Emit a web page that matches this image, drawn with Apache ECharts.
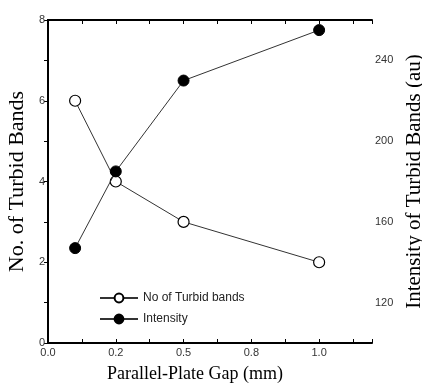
<!DOCTYPE html>
<html>
<head>
<meta charset="utf-8">
<script src="https://cdn.jsdelivr.net/npm/echarts@6/dist/echarts.min.js"></script>
<style>html,body{margin:0;padding:0;background:#fff;}#c{width:422px;height:388px;}</style>
</head>
<body>
<div id="c"></div>
<script>
// ---- data ----
const xTickLabels = ['0.0', '0.2', '0.5', '0.8', '1.0'];
const xTickValues = [0.0, 0.2, 0.5, 0.8, 1.0];
const gapMm = [0.08, 0.2, 0.5, 1.0];
const turbidBands = [6, 4, 3, 2];
const intensity = [147, 185, 230, 255];
const leftTicks = [0, 2, 4, 6, 8];
const rightLabelTicks = [120, 160, 200, 240];

// piecewise mapping of gap value onto equally spaced tick positions
function toAxis(v) {
  for (let i = 0; i < xTickValues.length - 1; i++) {
    const a = xTickValues[i], b = xTickValues[i + 1];
    if (v <= b || i === xTickValues.length - 2) return i + (v - a) / (b - a);
  }
}

const sans = 'Liberation Sans';
const serif = 'Liberation Serif';
const axisLine = { show: true, lineStyle: { color: '#000', width: 2 } };

const chart = echarts.init(document.getElementById('c'), null, { renderer: 'canvas' });
chart.setOption({
  animation: false,
  backgroundColor: '#fff',
  grid: { left: 48, right: 50, top: 20, bottom: 45, containLabel: false, outerBoundsMode: 'none' },
  legend: {
    orient: 'vertical', left: 94, top: 287, itemWidth: 38, itemHeight: 11, itemGap: 9,
    textStyle: { fontFamily: sans, fontSize: 12, color: '#222' },
    data: ['No of Turbid bands', 'Intensity']
  },
  xAxis: [{
    type: 'value', min: 0, max: 4.78, interval: 0.5,
    name: 'Parallel-Plate Gap (mm)', nameLocation: 'middle', nameGap: 22,
    nameTextStyle: { fontFamily: serif, fontSize: 18, color: '#000', padding: [0, 30, 0, 0] },
    axisLine: axisLine,
    axisTick: { show: true, inside: true, length: 4, lineStyle: { color: '#000' } },
    axisLabel: {
      customValues: xTickLabels.map((_, i) => i),
      formatter: v => xTickLabels[Math.round(v)],
      fontFamily: sans, fontSize: 11, color: '#333', margin: 4
    },
    splitLine: { show: false }
  }, {
    type: 'value', min: 0, max: 4.78, interval: 0.5, position: 'top',
    axisLine: axisLine,
    axisTick: { show: true, inside: true, length: 4, lineStyle: { color: '#000' } },
    axisLabel: { show: false }, splitLine: { show: false }
  }],
  yAxis: [{
    type: 'value', min: 0, max: 8, interval: 1,
    name: 'No. of Turbid Bands', nameLocation: 'middle', nameGap: 15, nameRotate: 90,
    nameTextStyle: { fontFamily: serif, fontSize: 22, color: '#000' },
    axisLine: axisLine,
    axisTick: { show: true, inside: false, length: 4, lineStyle: { color: '#000' } },
    axisLabel: { customValues: leftTicks, fontFamily: sans, fontSize: 11, color: '#333', margin: 3 },
    splitLine: { show: false }
  }, {
    type: 'value', min: 100, max: 260, interval: 20, position: 'right',
    name: 'Intensity of Turbid Bands (au)', nameLocation: 'middle', nameGap: 25, nameRotate: 90,
    nameTextStyle: { fontFamily: serif, fontSize: 21, color: '#000' },
    axisLine: axisLine,
    axisTick: { show: true, inside: true, length: 4, lineStyle: { color: '#000' } },
    axisLabel: {
      formatter: v => rightLabelTicks.indexOf(v) >= 0 ? String(v) : '',
      fontFamily: sans, fontSize: 11, color: '#333', margin: 3
    },
    splitLine: { show: false }
  }],
  series: [{
    name: 'No of Turbid bands', type: 'line', xAxisIndex: 0, yAxisIndex: 0,
    data: gapMm.map((g, i) => [toAxis(g), turbidBands[i]]),
    symbol: 'circle', symbolSize: 11,
    itemStyle: { color: '#fff', borderColor: '#000', borderWidth: 1.2 },
    lineStyle: { color: '#333', width: 1 }, z: 3
  }, {
    name: 'Intensity', type: 'line', xAxisIndex: 0, yAxisIndex: 1,
    data: gapMm.map((g, i) => [toAxis(g), intensity[i]]),
    symbol: 'circle', symbolSize: 11,
    itemStyle: { color: '#000', borderColor: '#000', borderWidth: 1 },
    lineStyle: { color: '#333', width: 1 }, z: 4
  }]
});
</script>
</body>
</html>
